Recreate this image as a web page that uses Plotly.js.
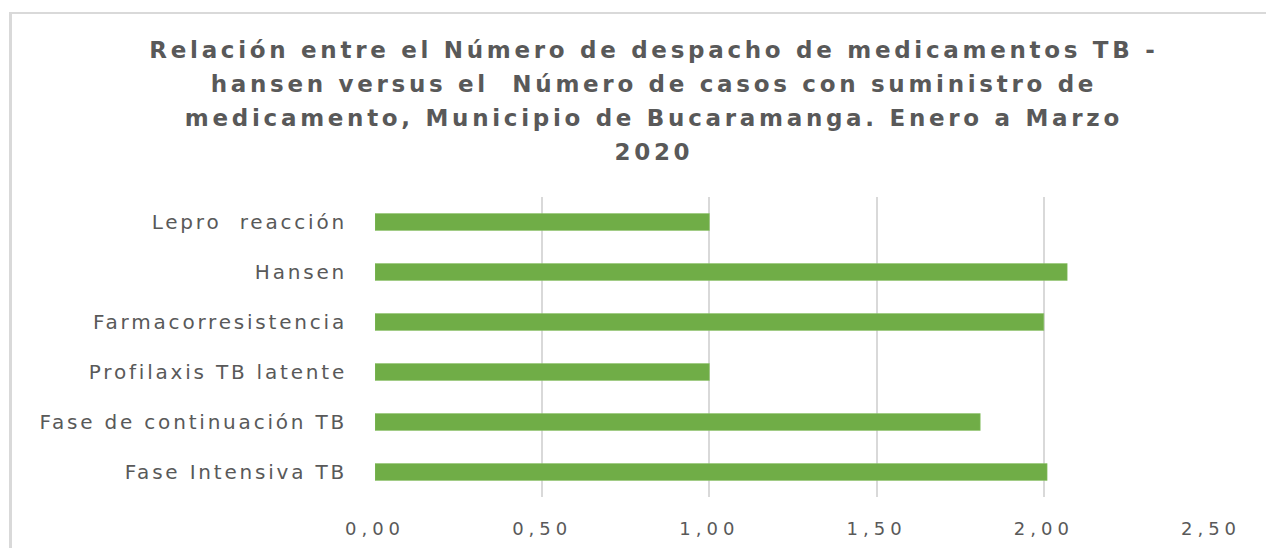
<!DOCTYPE html>
<html>
<head>
<meta charset="utf-8">
<script src="https://cdn.plot.ly/plotly-3.0.1.min.js"></script>
<style>
  html, body { margin: 0; padding: 0; background: #ffffff; }
  #frame { position: absolute; left: 9px; top: 12px; width: 1300px; height: 600px; border-style: solid; border-color: #d9d9d9; border-width: 2px 2px 2px 3px; box-sizing: border-box; }
  #chart { position: absolute; left: 0; top: 0; width: 1266px; height: 548px; }
  #chart .ytick text { letter-spacing: 2.8px; }
  #chart .xtick text { letter-spacing: 5px; }
  #chart .gtitle { letter-spacing: 3.7px; }
</style>
</head>
<body>
<div id="frame"></div>
<div id="chart"></div>
<script>
// Categories listed bottom-to-top (as in the source chart)
var categories = [
  "Fase Intensiva TB",
  "Fase de continuación TB",
  "Profilaxis TB latente",
  "Farmacorresistencia",
  "Hansen",
  "Lepro\u00a0 reacción"
];
var values = [2.01, 1.81, 1.00, 2.00, 2.07, 1.00];
var xTicks = [0, 0.5, 1.0, 1.5, 2.0, 2.5];
var titleLines = [
  "Relación entre el Número de despacho de medicamentos TB -",
  "hansen versus el\u00a0 Número de casos con suministro de",
  "medicamento, Municipio de Bucaramanga. Enero a Marzo",
  "2020"
];

var titleText = titleLines.map(function (l) {
  return '<span style="font-size:23px">' + l + '</span>';
}).join("<br>");

var trace = {
  type: "bar",
  orientation: "h",
  y: categories,
  x: values,
  marker: { color: "#70AD47", line: { color: "#8cc26a", width: 0.5 } },
  hoverinfo: "x+y"
};

var layout = {
  width: 1266,
  height: 548,
  paper_bgcolor: "rgba(0,0,0,0)",
  plot_bgcolor: "rgba(0,0,0,0)",
  margin: { l: 375, r: 55, t: 197, b: 51 },
  separators: ",.",
  showlegend: false,
  bargap: 0.66,
  title: {
    text: titleText,
    x: 0.5165,
    xanchor: "center",
    xref: "container",
    y: 0.8945,
    yanchor: "top",
    yref: "container",
    font: { family: "DejaVu Sans", size: 26.15, color: "#595959", weight: "bold" }
  },
  xaxis: {
    range: [0, 2.5],
    tickvals: xTicks,
    tickformat: ".2f",
    showgrid: true,
    gridcolor: "#d9d9d9",
    gridwidth: 2,
    zeroline: false,
    showline: false,
    ticks: "",
    ticklabelstandoff: 19,
    tickfont: { family: "DejaVu Sans", size: 18, color: "#595959" },
    fixedrange: true
  },
  yaxis: {
    type: "category",
    range: [-0.5, 5.5],
    showgrid: false,
    zeroline: false,
    showline: false,
    ticks: "",
    ticklabelstandoff: 27,
    tickfont: { family: "DejaVu Sans", size: 20, color: "#595959" },
    fixedrange: true
  }
};

Plotly.newPlot("chart", [trace], layout, { displayModeBar: false, staticPlot: true });
</script>
</body>
</html>
